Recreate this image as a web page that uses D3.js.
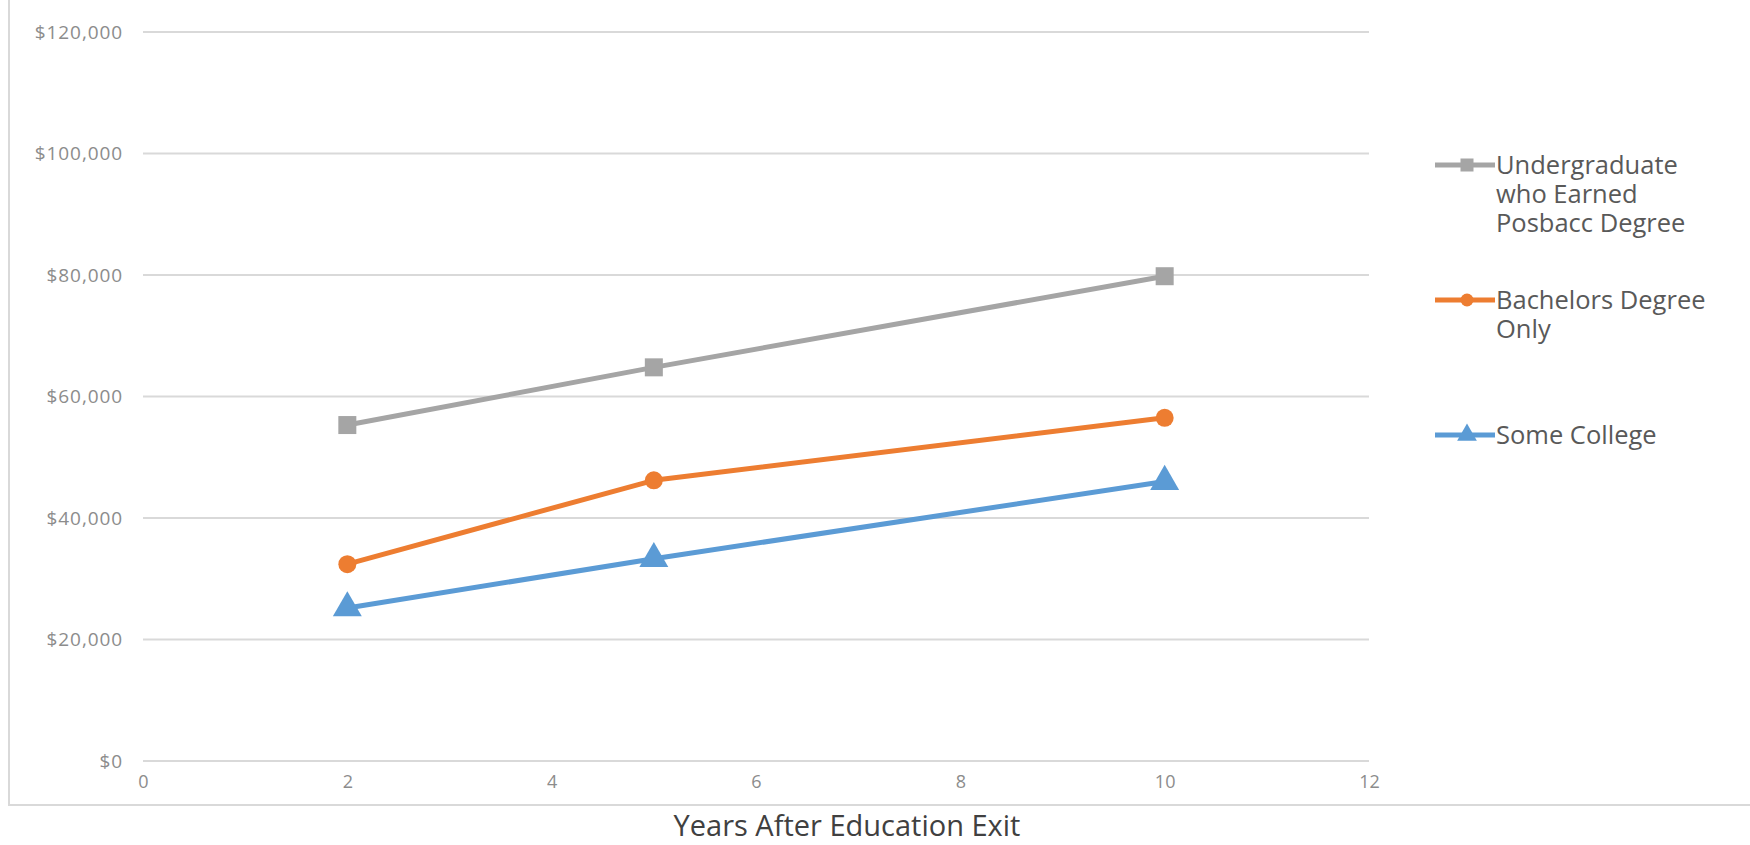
<!DOCTYPE html>
<html><head><meta charset="utf-8">
<script src="https://cdn.jsdelivr.net/npm/d3@7"></script>
<style>
body{margin:0;background:#fff;}
svg{display:block;}
text{font-family:"Open Sans",sans-serif;}
</style></head>
<body>
<svg id="chart" width="1750" height="845"></svg>
<script>
const years = [2, 5, 10];
const seriesNames = ["Undergraduate who Earned Posbacc Degree", "Bachelors Degree Only", "Some College"];
const legendLines = [["Undergraduate", "who Earned", "Posbacc Degree"], ["Bachelors Degree", "Only"], ["Some College"]];
const posbaccValues = [55300, 64800, 79800];
const bachelorsValues = [32400, 46200, 56500];
const someCollegeValues = [25200, 33300, 46000];
const yTicks = [0, 20000, 40000, 60000, 80000, 100000, 120000];
const xTicks = [0, 2, 4, 6, 8, 10, 12];
const colors = ["#A5A5A5", "#ED7D31", "#5B9BD5"];
const markers = ["square", "circle", "triangle"];
const xTitle = "Years After Education Exit";

const svg = d3.select("#chart");
const x = d3.scaleLinear().domain([0, 12]).range([143, 1369]);
const y = d3.scaleLinear().domain([0, 120000]).range([761, 32]);

// frame
svg.append("rect").attr("x", 9).attr("y", -10).attr("width", 1800).attr("height", 815)
  .attr("fill", "none").attr("stroke", "#d9d9d9").attr("stroke-width", 2);

// gridlines
svg.append("g").selectAll("line").data(yTicks).join("line")
  .attr("x1", x(0)).attr("x2", x(12))
  .attr("y1", d => y(d)).attr("y2", d => y(d))
  .attr("stroke", "#d9d9d9").attr("stroke-width", 2);

// y axis labels
const fmt = d => "$" + d3.format(",")(d);
const yAxis = d3.axisLeft(y).tickValues(yTicks).tickFormat(fmt).tickSize(0).tickPadding(20);
const gy = svg.append("g").attr("transform", `translate(${x(0)},0)`).call(yAxis);
gy.select(".domain").remove();
gy.selectAll("text").attr("fill", "#8c8c8c").style("font-size", "19px").style("letter-spacing", "0.9px")
  .style("font-family", "'Open Sans',sans-serif");

// x axis labels
const xAxis = d3.axisBottom(x).tickValues(xTicks).tickSize(0).tickPadding(14);
const gx = svg.append("g").attr("transform", `translate(0,${y(0)})`).call(xAxis);
gx.select(".domain").remove();
gx.selectAll("text").attr("fill", "#8c8c8c").style("font-size", "18px")
  .style("font-family", "'Open Sans',sans-serif");

// axis title
svg.append("text").attr("x", 847).attr("y", 836).attr("text-anchor", "middle")
  .attr("fill", "#404040").style("font-size", "29px").text(xTitle);

const allValues = [posbaccValues, bachelorsValues, someCollegeValues];
const line = d3.line().x(d => x(d[0])).y(d => y(d[1]));

function drawMarker(g, type, cx, cy, color, s) {
  if (type === "square") {
    g.append("rect").attr("x", cx - s/2).attr("y", cy - s/2).attr("width", s).attr("height", s).attr("fill", color);
  } else if (type === "circle") {
    g.append("circle").attr("cx", cx).attr("cy", cy).attr("r", s/2).attr("fill", color);
  } else {
    const sym = d3.symbol().type(d3.symbolTriangle).size(s*s*0.75);
    g.append("path").attr("d", sym()).attr("transform", `translate(${cx},${cy})`).attr("fill", color);
  }
}

allValues.forEach((vals, i) => {
  const pts = years.map((yr, j) => [yr, vals[j]]);
  const g = svg.append("g");
  g.append("path").attr("d", line(pts)).attr("fill", "none").attr("stroke", colors[i])
    .attr("stroke-width", 5).attr("stroke-linejoin", "round");
  pts.forEach(p => drawMarker(g, markers[i], x(p[0]), y(p[1]), colors[i], markers[i] === "triangle" ? 22 : 18));
});

// legend
const legendY = [165, 300, 435];
legendLines.forEach((lines, i) => {
  const g = svg.append("g");
  g.append("line").attr("x1", 1435).attr("x2", 1495).attr("y1", legendY[i]).attr("y2", legendY[i])
    .attr("stroke", colors[i]).attr("stroke-width", 5);
  drawMarker(g, markers[i], 1467, legendY[i], colors[i], markers[i] === "triangle" ? 15 : 13);
  const txt = g.append("text").attr("x", 1496).attr("y", legendY[i]).attr("dy", "0.35em")
    .attr("fill", "#595959").style("font-size", "25.5px");
  lines.forEach((t, k) => {
    txt.append("tspan").attr("x", 1496).attr("dy", k === 0 ? "0.35em" : 29).text(t);
  });
});
</script>
</body></html>
